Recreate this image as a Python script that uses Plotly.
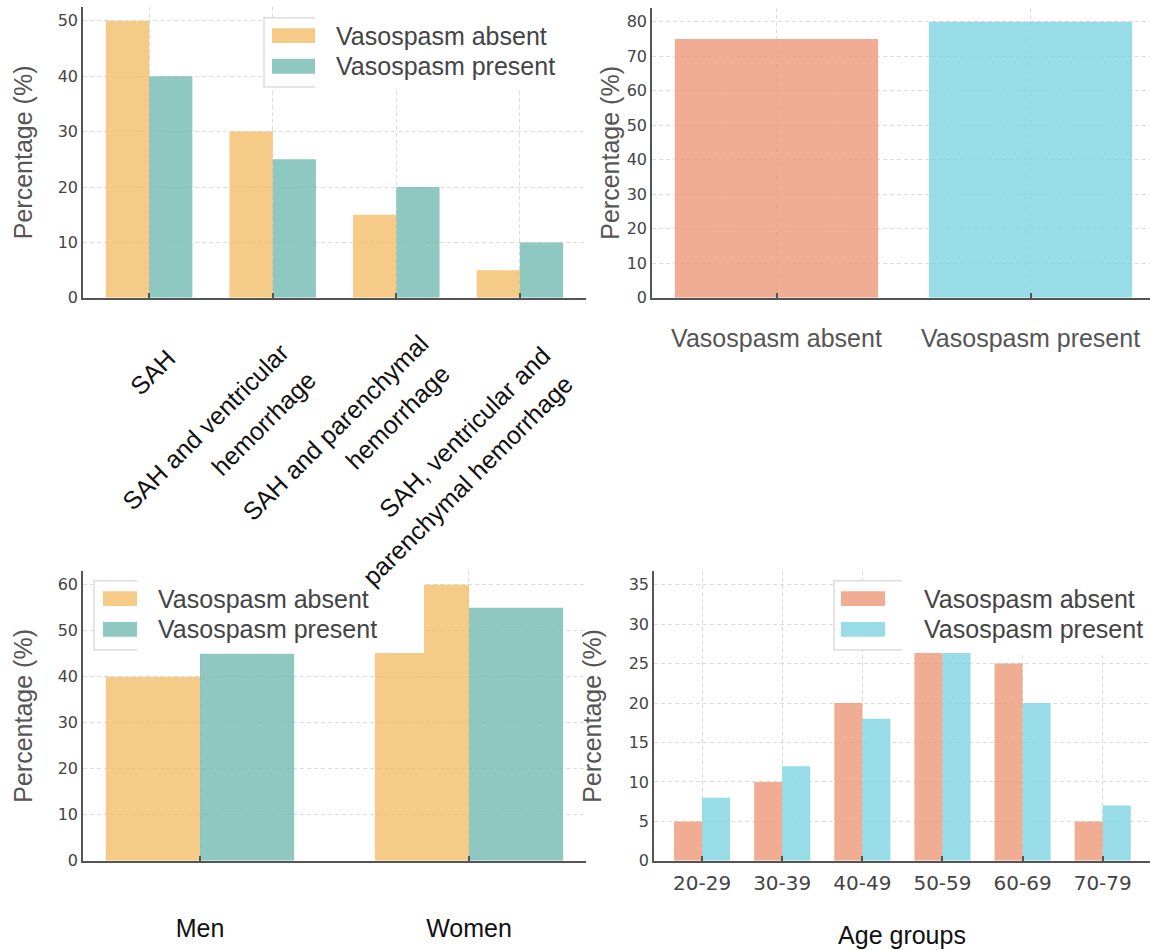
import plotly.graph_objects as go

W, H = 1150, 950

# ---- data -------------------------------------------------------------
series_names = ["Vasospasm absent", "Vasospasm present"]

hem_labels = [
    ["SAH"],
    ["SAH and ventricular", "hemorrhage"],
    ["SAH and parenchymal", "hemorrhage"],
    ["SAH, ventricular and", "parenchymal hemorrhage"],
]
hem_absent = [50, 30, 15, 5]
hem_present = [40, 25, 20, 10]

overall_groups = ["Vasospasm absent", "Vasospasm present"]
overall_pct = [75, 80]

sex_groups = ["Men", "Women"]
sex_absent = [40, 60]
sex_present = [45, 55]

age_groups = ["20-29", "30-39", "40-49", "50-59", "60-69", "70-79"]
age_absent = [5, 10, 20, 35, 25, 5]
age_present = [8, 12, 18, 35, 20, 7]

# ---- styling ----------------------------------------------------------
YELLOW = "rgba(243,190,105,0.8)"
TEAL = "rgba(115,186,178,0.8)"
SALMON = "rgba(238,153,120,0.8)"
CYAN = "rgba(126,211,226,0.8)"
SWATCH = {YELLOW: "#F5CB87", TEAL: "#8FC8C1", SALMON: "#F1AD93", CYAN: "#98DCE8"}

SANS = "Liberation Sans, Arial, sans-serif"
TICKF = "DejaVu Sans, sans-serif"
GRID = "#dcdcdc"
AXIS = "#555555"


def px_x(p):
    return p / W


def px_y(p):
    return 1 - p / H


def xdom(a, b):
    return [px_x(a), px_x(b)]


def ydom(top, bottom):
    return [px_y(bottom), px_y(top)]


fig = go.Figure()


def grouped(xa, ya, values_a, values_b, col_a, col_b):
    n = len(values_a)
    fig.add_trace(go.Bar(x=list(range(n)), y=values_a, width=0.35, offset=-0.35,
                         marker=dict(color=col_a, line=dict(width=0)),
                         name=series_names[0], showlegend=False, xaxis=xa, yaxis=ya))
    fig.add_trace(go.Bar(x=list(range(n)), y=values_b, width=0.35, offset=0.0,
                         marker=dict(color=col_b, line=dict(width=0)),
                         name=series_names[1], showlegend=False, xaxis=xa, yaxis=ya))


grouped("x", "y", hem_absent, hem_present, YELLOW, TEAL)
fig.add_trace(go.Bar(x=list(range(len(overall_pct))), y=overall_pct, width=0.8, offset=-0.4,
                     marker=dict(color=[SALMON, CYAN], line=dict(width=0)),
                     showlegend=False, xaxis="x2", yaxis="y2"))
grouped("x3", "y3", sex_absent, sex_present, YELLOW, TEAL)
grouped("x4", "y4", age_absent, age_present, SALMON, CYAN)

common_x = dict(showline=True, linecolor=AXIS, linewidth=1.6, mirror=False,
                showgrid=True, gridcolor=GRID, griddash="4px,3px", gridwidth=1,
                zeroline=False, ticks="inside", ticklen=5, tickcolor=AXIS, tickwidth=1.5)
common_y = dict(showline=True, linecolor=AXIS, linewidth=1.6, mirror=False,
                showgrid=True, gridcolor=GRID, griddash="4px,3px", gridwidth=1,
                zeroline=False, ticks="", tickfont=dict(family=TICKF, size=16, color="#444"),
                title=dict(text="Percentage (%)", font=dict(family=SANS, size=25, color=AXIS)))

fig.update_layout(
    width=W, height=H, autosize=False,
    margin=dict(l=0, r=0, t=0, b=0),
    paper_bgcolor="white", plot_bgcolor="white",
    barmode="overlay", showlegend=False,
    xaxis=dict(common_x, domain=xdom(83, 586), range=[-0.535, 3.535], anchor="y",
               tickvals=list(range(len(hem_labels))), showticklabels=False),
    yaxis=dict(common_y, domain=ydom(7, 301), range=[0, 52.5], anchor="x",
               tickvals=list(range(0, 51, 10))),
    xaxis2=dict(common_x, domain=xdom(652, 1150), range=[-0.49, 1.47], anchor="y2",
                tickvals=list(range(len(overall_groups))), ticktext=overall_groups,
                tickfont=dict(family=SANS, size=25, color=AXIS), ticklabelstandoff=17),
    yaxis2=dict(common_y, domain=ydom(8, 301), range=[0, 84], anchor="x2",
                tickvals=list(range(0, 81, 10))),
    xaxis3=dict(common_x, domain=xdom(83, 586), range=[-0.435, 1.435], anchor="y3",
                tickvals=list(range(len(sex_groups))), ticktext=sex_groups,
                tickfont=dict(family=SANS, size=25, color="#111"), ticklabelstandoff=44),
    yaxis3=dict(common_y, domain=ydom(577, 870), range=[0, 63], anchor="x3",
                tickvals=list(range(0, 61, 10))),
    xaxis4=dict(common_x, domain=xdom(654, 1150), range=[-0.6, 5.59], anchor="y4",
                tickvals=list(range(len(age_groups))), ticktext=age_groups,
                tickfont=dict(family=TICKF, size=20, color="#444"), ticklabelstandoff=3,
                title=dict(text="Age groups", font=dict(family=SANS, size=25, color="#111"),
                           standoff=33)),
    yaxis4=dict(common_y, domain=ydom(577, 870), range=[0, 36.75], anchor="x4",
                tickvals=list(range(0, 36, 5))),
)
fig.layout.yaxis.title.standoff = 18
fig.layout.yaxis2.title.standoff = 0
fig.layout.yaxis3.title.standoff = 18
fig.layout.yaxis4.title.standoff = 20

# ---- rotated category labels for the hemorrhage panel --------------------
# offsets (px) of the upper-right corner of each rotated line from its tick
line_offsets = [
    [(33, 45)],
    [(22, 39), (50, 66)],
    [(38, 30), (60, 60)],
    [(37, 42), (60, 70)],
]
annotations = []
for i, lines in enumerate(hem_labels):
    for text, (dx, dy) in zip(lines, line_offsets[i]):
        annotations.append(dict(
            text=text, xref="x", yref="y", x=i, y=0, xanchor="right", yanchor="top",
            xshift=dx, yshift=-dy, textangle=-45, showarrow=False, borderpad=0,
            font=dict(family=SANS, size=25, color="#111")))

# ---- legend boxes ---------------------------------------------------------
shapes = []


def legend_box(frame_x0, frame_x1, box_x1, fy0, fy1, cover_top, cover_bottom,
               cols, text_x, row_y, sw_x0, sw_x1, sw_h=15):
    # white backing of the legend (also hides grid and bars behind it)
    shapes.append(dict(type="rect", xref="paper", yref="paper", layer="above",
                       x0=px_x(frame_x0), x1=px_x(frame_x1), y0=px_y(fy1), y1=px_y(fy0),
                       fillcolor="white", line=dict(width=0)))
    shapes.append(dict(type="rect", xref="paper", yref="paper", layer="above",
                       x0=px_x(frame_x1), x1=px_x(box_x1), y0=px_y(cover_bottom),
                       y1=px_y(cover_top), fillcolor="white", line=dict(width=0)))
    shapes.append(dict(type="path", xref="paper", yref="paper", layer="above",
                       path=(f"M {px_x(frame_x1)},{px_y(fy0)} L {px_x(frame_x0)},{px_y(fy0)} "
                             f"L {px_x(frame_x0)},{px_y(fy1)} L {px_x(frame_x1)},{px_y(fy1)}"),
                       line=dict(color="#dddddd", width=1.5)))
    for name, col, yc in zip(series_names, cols, row_y):
        shapes.append(dict(type="rect", xref="paper", yref="paper", layer="above",
                           x0=px_x(sw_x0), x1=px_x(sw_x1), y0=px_y(yc + sw_h / 2),
                           y1=px_y(yc - sw_h / 2), fillcolor=SWATCH[col], line=dict(width=0)))
        annotations.append(dict(text=name, xref="paper", yref="paper", x=px_x(text_x),
                                y=px_y(yc), xanchor="left", yanchor="middle", showarrow=False,
                                font=dict(family=SANS, size=25, color="#444")))


legend_box(264, 315, 586, 18, 88, 0, 89, [YELLOW, TEAL], 334, [36, 67], 272, 315)
legend_box(94, 137, 424, 587, 657, 560, 660, [YELLOW, TEAL], 156, [605, 636], 103, 137)
legend_box(834, 902, 1150, 587, 657, 560, 660, [SALMON, CYAN], 922, [605, 636], 841, 885)

fig.update_layout(annotations=annotations, shapes=shapes)

fig.write_html("out.html")
